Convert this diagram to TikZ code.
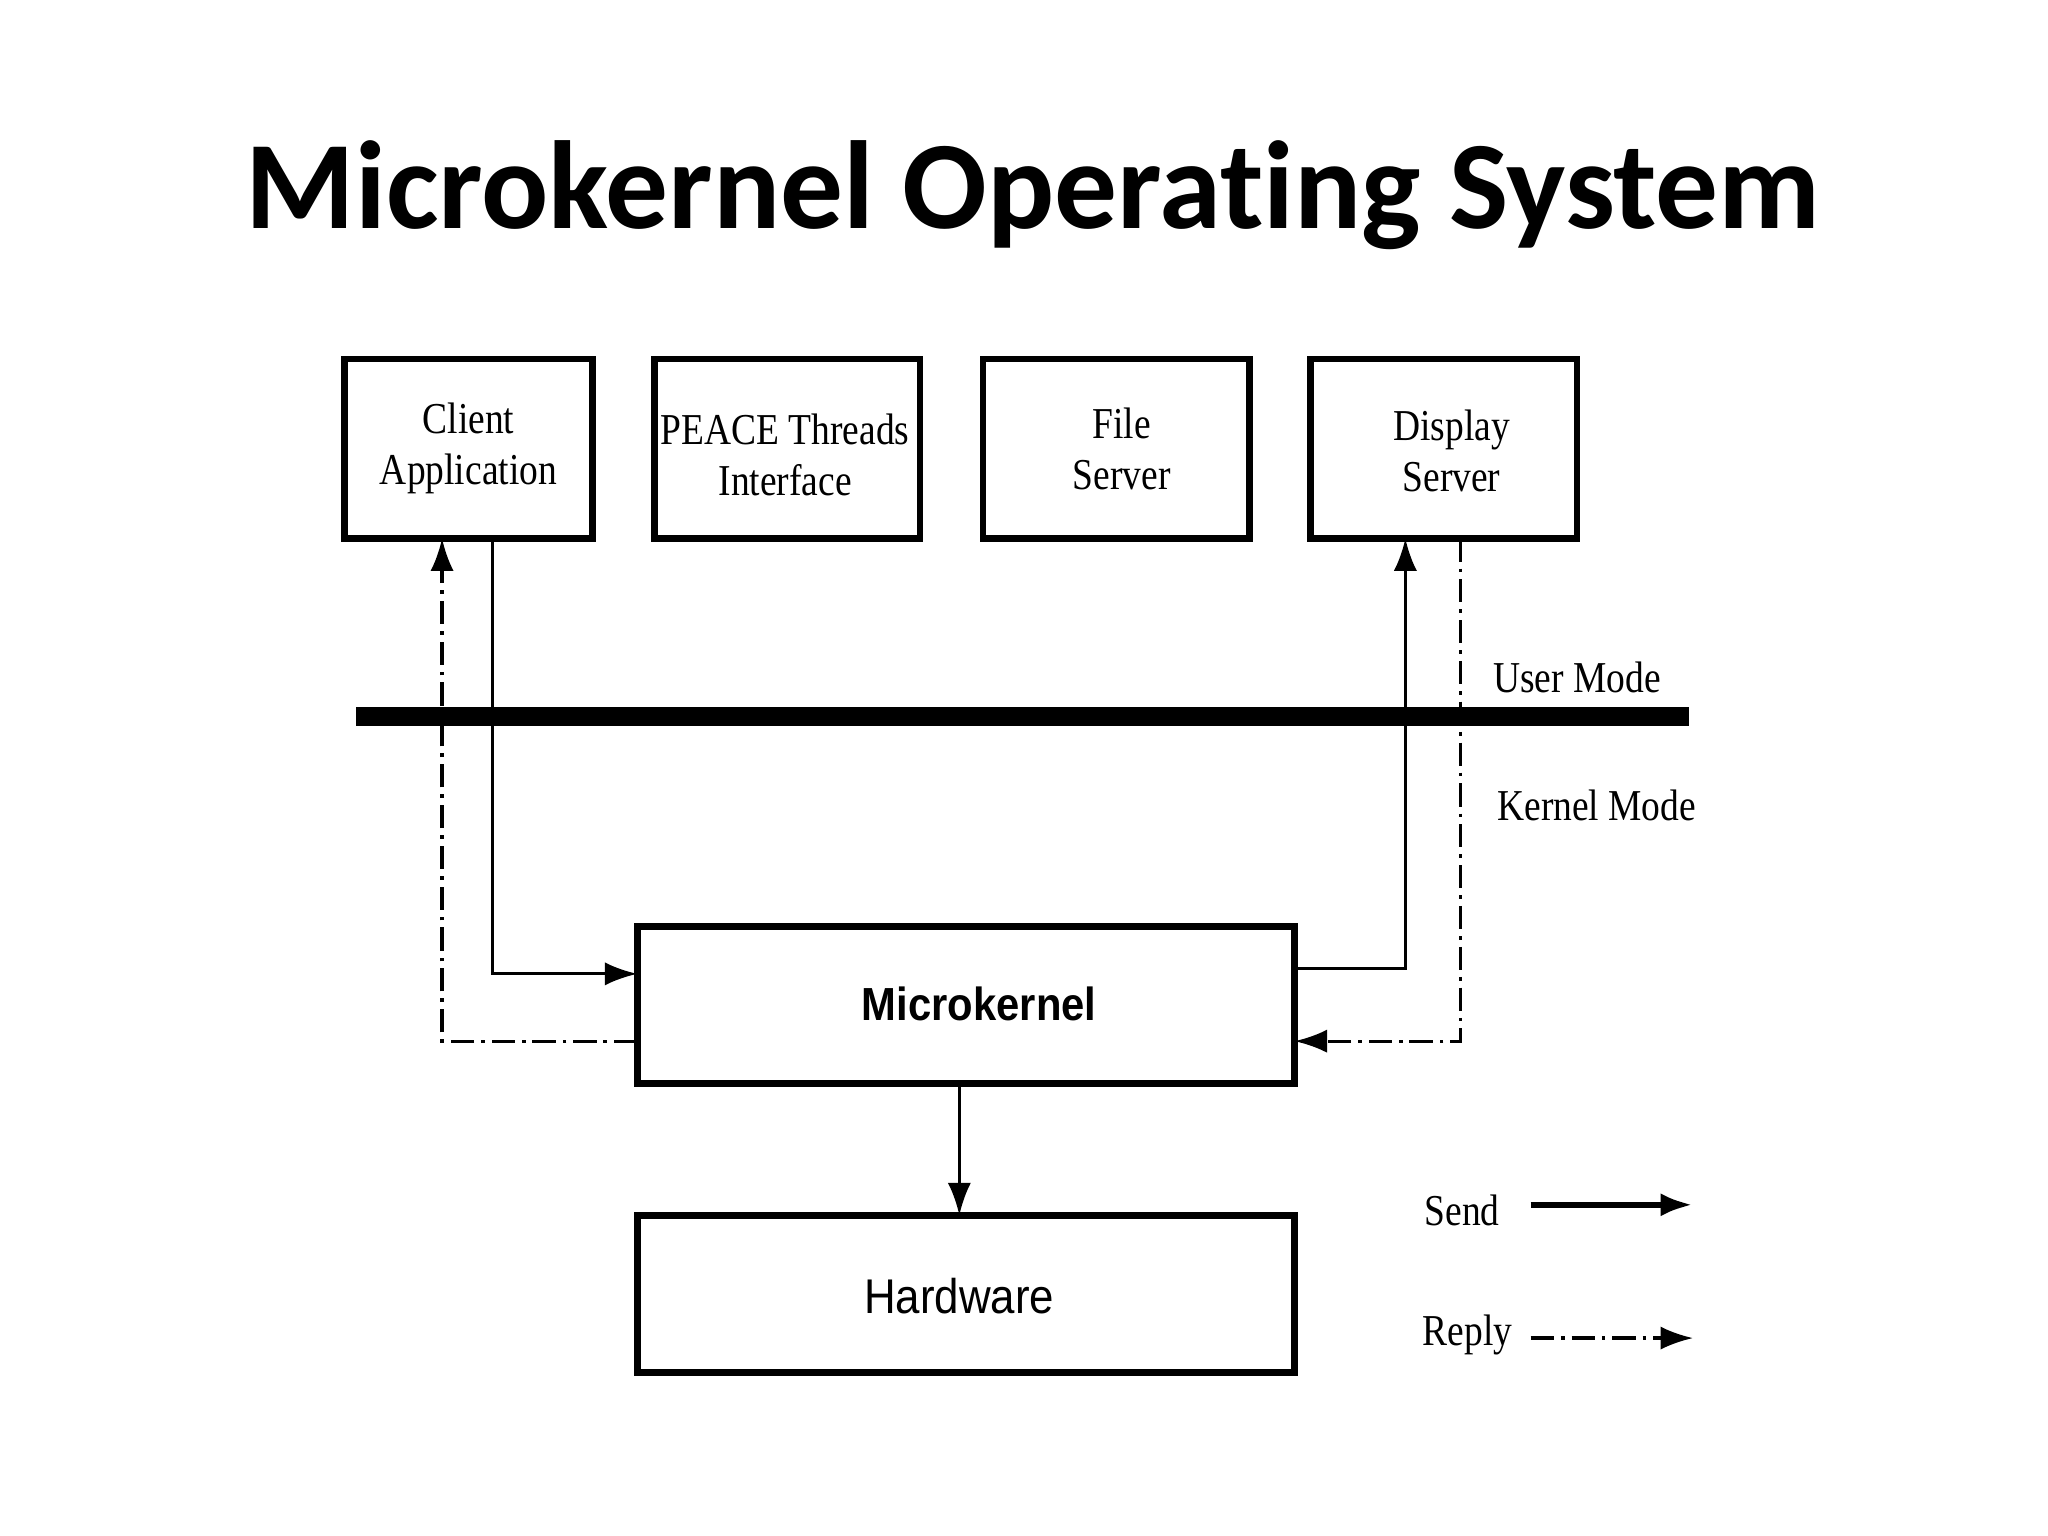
\documentclass[tikz,border=0pt]{standalone}
\usepackage{fontspec}
\setmainfont{Liberation Serif}
\newfontfamily\condf[FakeStretch=0.85]{Liberation Serif}
\newfontfamily\titlefont[Ligatures=NoCommon]{Carlito}
\newfontfamily\sansf[FakeStretch=0.9]{Liberation Sans}
\usetikzlibrary{arrows.meta}
\begin{document}
\begin{tikzpicture}[x=0.01cm,y=-0.01cm,
  box/.style={draw,line width=1.4pt,inner sep=0pt},
  lbl/.style={font=\condf\fontsize{9.5}{11}\selectfont,align=center,inner sep=1pt},
  send/.style={line width=0.7pt,-{Latex[length=7pt,width=5pt]}},
  reply/.style={line width=0.7pt,dash pattern=on 5pt off 1.5pt on 0.8pt off 1.5pt,-{Latex[length=7pt,width=5pt]}}]
\useasboundingbox (0,0) rectangle (1552,1164);
\node[font=\titlefont\bfseries\fontsize{27}{32}\selectfont] (title) at (783,148) {Microkernel Operating System};
\draw[box] (261,272) rectangle (449,408); \node[lbl] (ca) at (355,340) {Client\\Application};
\draw[box] (496,272) rectangle (697,408); \node[lbl] (pt) at (595,345) {PEACE Threads\\Interface};
\draw[box] (745,272) rectangle (947,408); \node[lbl] (fs) at (850,340) {File\\Server};
\draw[box] (993,272) rectangle (1195,408); \node[lbl] (ds) at (1100,342) {Display\\Server};
\draw[line width=4pt] (270,543) -- (1280,543);
\node[lbl] (um) at (1195,513) {User Mode};
\node[lbl] (km) at (1210,610) {Kernel Mode};
\draw[box] (483,702) rectangle (981,821);
\node[font=\sansf\bfseries\fontsize{10}{12}\selectfont] (mk) at (742,761) {Microkernel};
\draw[box] (483,921) rectangle (981,1040);
\node[font=\sansf\fontsize{10.5}{12}\selectfont] (hw) at (727,982) {Hardware};
\coordinate (a1) at (373,408); \coordinate (a2) at (483,738);
\draw[send] (a1) |- (a2);
\coordinate (b1) at (483,789); \coordinate (b2) at (335,408);
\draw[reply] (b1) -| (b2);
\coordinate (c1) at (981,734); \coordinate (c2) at (1065,408);
\draw[send] (c1) -| (c2);
\coordinate (d1) at (1107,408); \coordinate (d2) at (981,789);
\draw[reply] (d1) |- (d2);
\coordinate (e1) at (727,821); \coordinate (e2) at (727,921);
\draw[send] (e1) -- (e2);
\node[lbl] (snd) at (1108,917) {Send};
\coordinate (s1) at (1160,913); \coordinate (s2) at (1283,913);
\draw[send,line width=1.4pt] (s1) -- (s2);
\node[lbl] (rpl) at (1112,1012) {Reply};
\coordinate (r1) at (1160,1014); \coordinate (r2) at (1283,1014);
\draw[reply] (r1) -- (r2);
\end{tikzpicture}
\end{document}
